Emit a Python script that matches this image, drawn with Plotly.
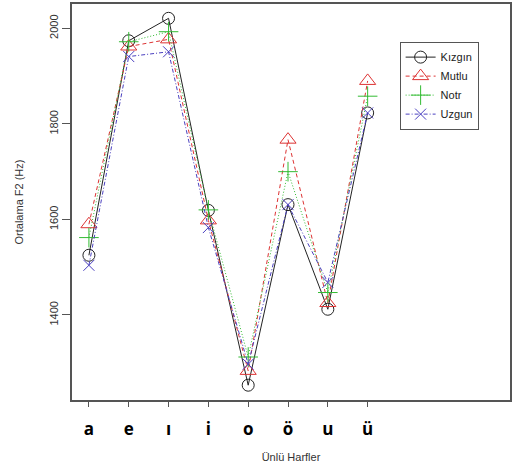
import plotly.graph_objects as go

# Turkish vowels on the x axis
vowels = ["a", "e", "ı", "i", "o", "ö", "u", "ü"]

# Mean F2 (Hz) per vowel for each emotion
kizgin = [1525, 1974, 2021, 1619, 1253, 1631, 1412, 1823]
mutlu = [1590, 1962, 1977, 1598, 1283, 1767, 1425, 1890]
notr = [1562, 1972, 1993, 1620, 1312, 1700, 1447, 1858]
uzgun = [1504, 1941, 1951, 1583, 1297, 1631, 1468, 1823]

y_ticks = [1400, 1600, 1800, 2000]

series = [
    ("Kızgın", kizgin, "#222222", "solid", "circle-open", 12),
    ("Mutlu", mutlu, "#dd3333", "4px,3px", "triangle-up-open", 14),
    ("Notr", notr, "#33bb33", "1px,2px", "cross-thin-open", 14),
    ("Uzgun", uzgun, "#4a40c0", "4px,2px,1px,2px", "x-thin-open", 11),
]

fig = go.Figure()
for name, vals, color, dash, symbol, size in series:
    fig.add_trace(go.Scatter(
        x=vowels, y=vals, name=name, mode="lines+markers",
        line=dict(color=color, width=1, dash=dash),
        marker=dict(symbol=symbol, size=size, color=color,
                    line=dict(color=color, width=1)),
    ))

fig.update_layout(
    width=514, height=472,
    margin=dict(l=72, r=2, t=4, b=72),
    paper_bgcolor="white", plot_bgcolor="white",
    font=dict(family="Liberation Sans, Arial, sans-serif", size=11, color="#333"),
    legend=dict(
        x=0.748, y=0.905, xanchor="left", yanchor="top",
        bordercolor="#555", borderwidth=1, bgcolor="white",
        font=dict(size=11, color="#222"),
        tracegroupgap=0, itemwidth=30,
    ),
)

fig.update_xaxes(
    type="category", range=[-0.425, 10.575],
    showgrid=False, zeroline=False,
    showline=True, linecolor="#555", linewidth=1.5, mirror=True,
    ticks="outside", ticklen=5, tickcolor="#555",
    tickfont=dict(family="Open Sans, sans-serif", size=17, color="#000", weight="bold"),
    ticklabelstandoff=8,
    title=dict(text="Ünlü Harfler", font=dict(size=11, color="#333"), standoff=14),
)
fig.update_yaxes(
    range=[1222, 2051],
    tickvals=y_ticks, ticktext=[str(v) for v in y_ticks],
    tickangle=-90,
    showgrid=False, zeroline=False,
    showline=True, linecolor="#555", linewidth=1.5, mirror=True,
    ticks="outside", ticklen=8, tickcolor="#555",
    tickfont=dict(size=11, color="#333"),
    title=dict(text="Ortalama F2 (Hz)", font=dict(size=11, color="#333"), standoff=22),
)

fig.write_html("out.html")
